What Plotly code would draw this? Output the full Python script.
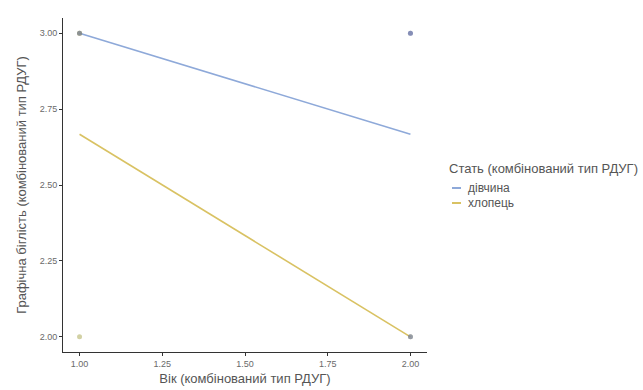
import plotly.graph_objects as go

# Observed values per group (age category vs. graphic fluency score)
girl_age = [1, 2, 2, 2]
girl_score = [3, 3, 3, 2]
boy_age = [1, 1, 1, 2]
boy_score = [3, 3, 2, 2]

# Fitted linear trend endpoints per group
fit_age = [1, 2]
girl_fit = [3.0, 2.667]
boy_fit = [2.667, 2.0]

x_ticks = [1.00, 1.25, 1.50, 1.75, 2.00]
y_ticks = [2.00, 2.25, 2.50, 2.75, 3.00]

group_names = ["дівчина", "хлопець"]
legend_title = "Стать (комбінований тип РДУГ)"

blue = "#8ea9d9"
yellow = "#d9c263"
tick_grey = "#6a6a6a"
title_grey = "#555555"
FONT = "Liberation Sans, Arial"

W, H = 643, 390
L, R, T, B = 63, 216, 18, 38
plot_w = W - L - R
plot_h = H - T - B


def px_x(px):
    return (px - L) / plot_w


def px_y(py):
    return (H - B - py) / plot_h


fig = go.Figure()

# regression lines
fig.add_trace(go.Scatter(x=fit_age, y=girl_fit, mode="lines", showlegend=False,
                         line=dict(color=blue, width=1.6)))
fig.add_trace(go.Scatter(x=fit_age, y=boy_fit, mode="lines", showlegend=False,
                         line=dict(color=yellow, width=1.6)))

# raw points, semi-transparent so overlaps darken
fig.add_trace(go.Scatter(x=boy_age, y=boy_score, mode="markers", showlegend=False,
                         marker=dict(color="#a6a44a", size=5, opacity=0.5)))
fig.add_trace(go.Scatter(x=girl_age, y=girl_score, mode="markers", showlegend=False,
                         marker=dict(color="#6e78a8", size=5, opacity=0.6)))

axis_common = dict(
    showgrid=False, zeroline=False, showline=True, linecolor="#333333", linewidth=1,
    ticks="outside", ticklen=3, tickcolor="#333333",
    tickfont=dict(family=FONT, size=9, color=tick_grey),
)

fig.update_xaxes(range=[0.95, 2.05], tickvals=x_ticks,
                 ticktext=[f"{v:.2f}" for v in x_ticks],
                 title=dict(text="Вік (комбінований тип РДУГ)", standoff=6,
                            font=dict(family=FONT, size=13, color=title_grey)),
                 automargin=False, **axis_common)
fig.update_yaxes(range=[1.95, 3.05], tickvals=y_ticks,
                 ticktext=[f"{v:.2f}" for v in y_ticks],
                 title=dict(text="Графічна біглість (комбінований тип РДУГ)", standoff=10,
                            font=dict(family=FONT, size=13, color=title_grey)),
                 automargin=False, **axis_common)

# legend drawn as text + short key lines
annotations = [dict(xref="paper", yref="paper", x=px_x(447), y=px_y(169),
                    text=legend_title, showarrow=False, xanchor="left", yanchor="middle",
                    font=dict(family=FONT, size=13, color=title_grey))]
shapes = []
for i, (name, col) in enumerate(zip(group_names, [blue, yellow])):
    yy = px_y(188 + 15 * i)
    annotations.append(dict(xref="paper", yref="paper", x=px_x(466), y=yy,
                            text=name, showarrow=False, xanchor="left", yanchor="middle",
                            font=dict(family=FONT, size=12, color=title_grey)))
    shapes.append(dict(type="line", xref="paper", yref="paper",
                       x0=px_x(452), x1=px_x(461), y0=yy, y1=yy,
                       line=dict(color=col, width=2)))

fig.update_layout(
    width=W, height=H,
    margin=dict(l=L, r=R, t=T, b=B),
    plot_bgcolor="white", paper_bgcolor="white",
    showlegend=False,
    annotations=annotations, shapes=shapes,
)

fig.write_html("out.html")
